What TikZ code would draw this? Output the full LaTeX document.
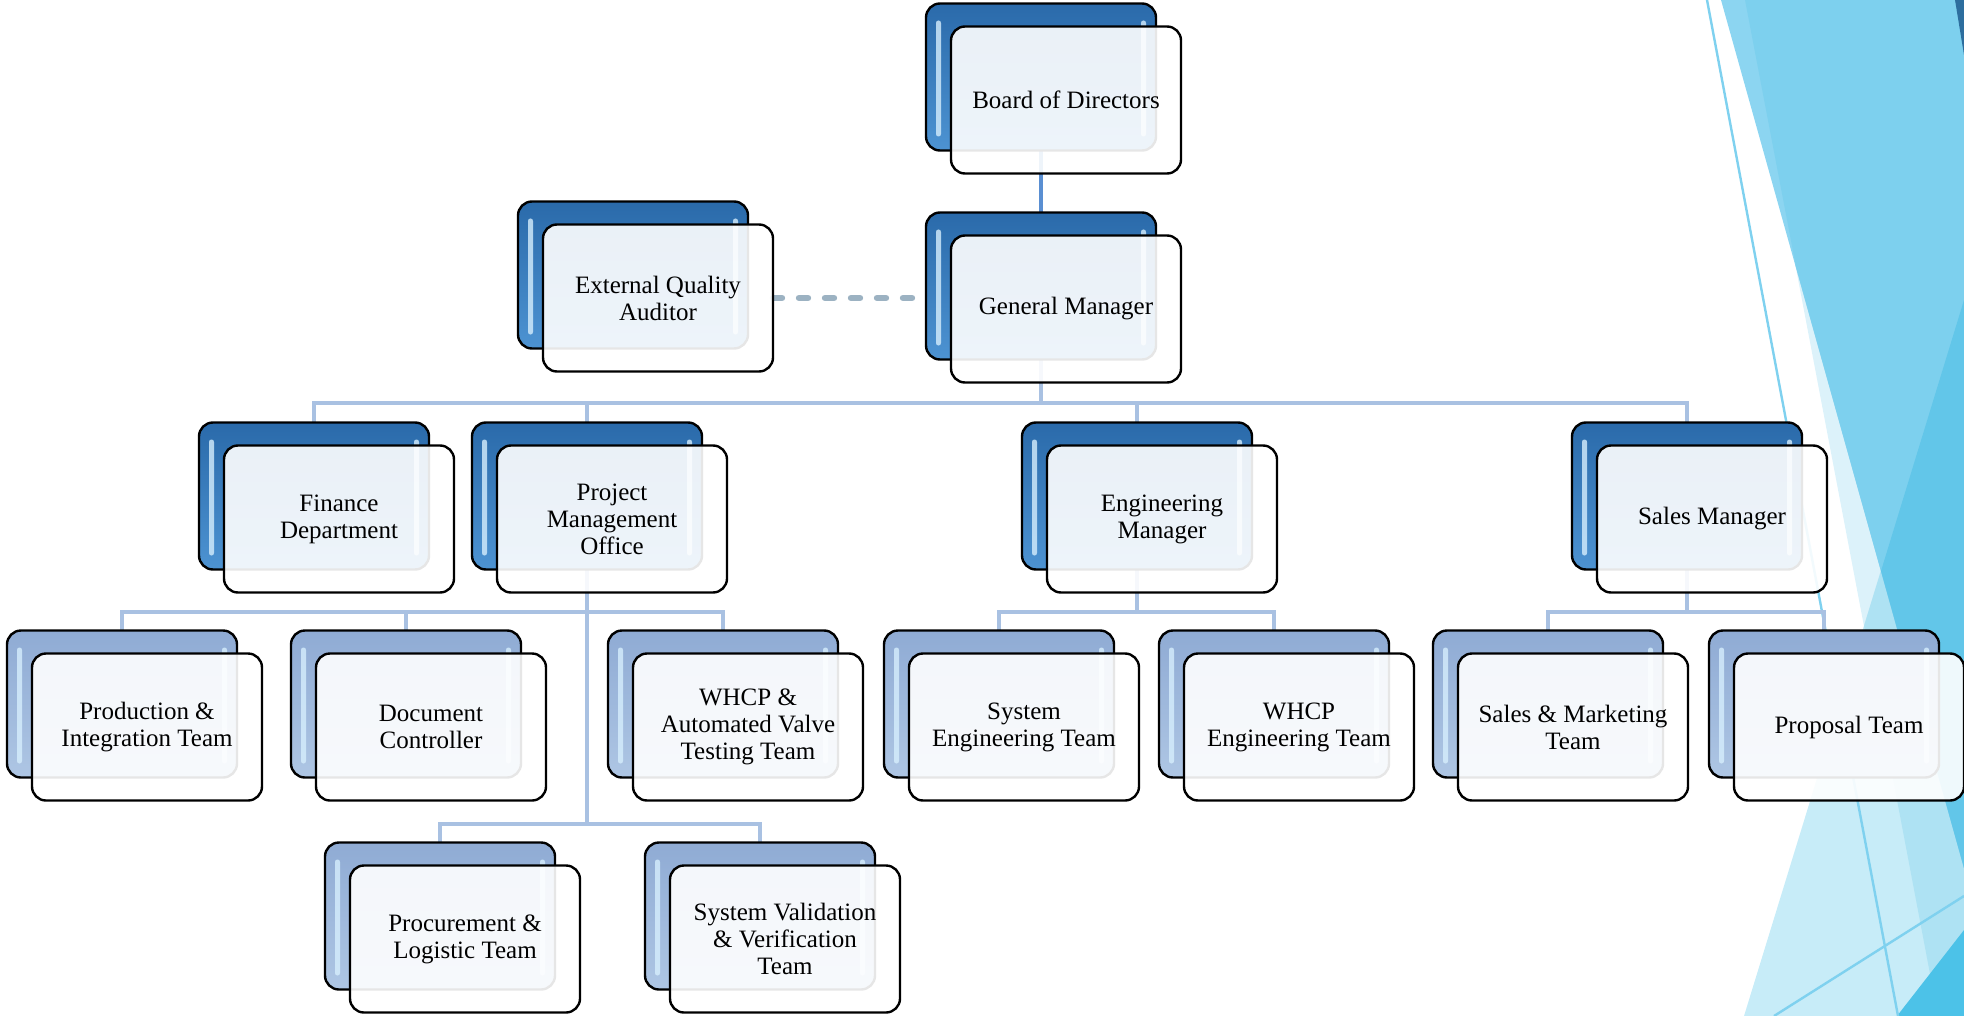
\documentclass[tikz,border=0pt]{standalone}
\usepackage{fontspec}
\setmainfont{Liberation Serif}
\usetikzlibrary{backgrounds}

\definecolor{linkblue}{HTML}{A9C1E2}
\definecolor{topline}{HTML}{5A8FD2}
\definecolor{dashgray}{HTML}{9CB2C2}
\definecolor{deeptop}{HTML}{2A6AAA}
\definecolor{deepbot}{HTML}{4D93D2}
\definecolor{paletop}{HTML}{8FABD4}
\definecolor{palebot}{HTML}{AEC6E4}
\definecolor{glint}{HTML}{D6EEFD}
\definecolor{decoX}{HTML}{8CD5F1}
\definecolor{decoY}{HTML}{DCF2FA}
\definecolor{decoZ}{HTML}{C7ECF8}
\definecolor{decoYZ}{HTML}{AEE2F3}
\definecolor{decoXY}{HTML}{7DD0EE}
\definecolor{decoXZ}{HTML}{62C6E9}
\definecolor{decoW}{HTML}{4CC2E8}
\definecolor{decoNavy}{HTML}{2D6E9E}
\definecolor{decoline}{HTML}{7FD1EF}

\begin{document}
\begin{tikzpicture}[x=0.5pt,y=-0.5pt,
  backbox/.style={draw=black, line width=1.2pt, rounded corners=7pt,
    minimum width=115pt, minimum height=73.5pt, inner sep=0pt, outer sep=0pt,
    path picture={
      \fill[glint, opacity=.8, rounded corners=1.2pt]
        ([xshift=5pt,yshift=-8.5pt]path picture bounding box.north west) rectangle
        ([xshift=7.5pt,yshift=7pt]path picture bounding box.south west);
      \fill[glint, opacity=.8, rounded corners=1.2pt]
        ([xshift=-5pt,yshift=-8.5pt]path picture bounding box.north east) rectangle
        ([xshift=-7.5pt,yshift=7pt]path picture bounding box.south east);
    }},
  deepbox/.style={backbox, top color=deeptop, bottom color=deepbot},
  palebox/.style={backbox, top color=paletop, bottom color=palebot},
  frontbox/.style={draw=black, line width=1.2pt, rounded corners=7pt,
    fill=white, fill opacity=.9, text opacity=1,
    minimum width=115pt, minimum height=73.5pt, inner sep=2pt, outer sep=0pt,
    align=center, font=\fontsize{12.5}{13.5}\selectfont},
  link/.style={draw=linkblue, line width=2pt}]
\useasboundingbox (0,0) rectangle (1964,1016);

\foreach \nm/\x/\y/\txt in {board/1041/77/{Board of Directors},
  gm/1041/286/{General Manager},
  eqa/633/275/{External Quality\\Auditor},
  fin/314/496/{Finance\\Department},
  pmo/587/496/{Project\\Management\\Office},
  eng/1137/496/{Engineering\\Manager},
  sales/1687/496/{Sales Manager}}
{
    \node[deepbox] (\nm) at (\x,\y) {};
    \node[frontbox] (\nm-f) at ([xshift=12.5pt,yshift=-11.5pt]\nm) {\txt};
}

\foreach \nm/\x/\y/\txt in {prod/122/704/{Production \&\\Integration Team},
  doc/406/704/{Document\\Controller},
  whcp/723/704/{WHCP \&\\Automated Valve\\Testing Team},
  syseng/999/704/{System\\Engineering Team},
  whcpeng/1274/704/{WHCP\\Engineering Team},
  salesmkt/1548/704/{Sales \& Marketing\\Team},
  proposal/1824/704/{Proposal Team},
  proc/440/916/{Procurement \&\\Logistic Team},
  sysval/760/916/{System Validation\\\& Verification\\Team}}
{
    \node[palebox] (\nm) at (\x,\y) {};
    \node[frontbox] (\nm-f) at ([xshift=12.5pt,yshift=-11.5pt]\nm) {\txt};
}

\begin{pgfonlayer}{background}
% facets on the right
\fill[decoY] (1745,0) -- (1964,0) -- (1964,1016) -- (1938,1016) -- cycle;
\fill[decoZ] (1744,1016) -- (1964,300) -- (1964,1016) -- cycle;
\fill[decoYZ] (1864,626) -- (1964,300) -- (1964,1016) -- (1938,1016) -- cycle;
\fill[decoX] (1721,0) -- (1964,0) -- (1964,868) -- cycle;
\fill[decoXY] (1745,0) -- (1964,0) -- (1964,868) -- (1796,267) -- cycle;
\fill[decoXZ] (1964,300) -- (1881,571) -- (1964,868) -- cycle;
\fill[decoW] (1897,1016) -- (1964,930) -- (1964,1016) -- cycle;
\fill[decoNavy] (1955,0) -- (1964,0) -- (1964,55) -- cycle;
\draw[decoline, line width=1.2pt] (1707,0) -- (1898,1016);
\draw[decoline, line width=1.2pt] (1774,1016) -- (1964,896);

% links
\draw[topline, line width=2pt] (board) -- (gm);
\coordinate (b2) at ([yshift=10pt]fin.north);
\draw[link] (gm.south) -- (gm.south |- b2);
\draw[link] (fin.north) |- (b2) -| (sales.north);
\foreach \n in {pmo,eng}
{
    \draw[link] (\n.north) -- (\n.north |- b2);
}
\coordinate (b3) at ([yshift=9.5pt]prod.north);
\coordinate (b4) at ([yshift=9.5pt]proc.north);
\draw[link] (prod.north) |- (b3) -| (whcp.north);
\draw[link] (doc.north) -- (doc.north |- b3);
\draw[link] (pmo.south) -- (pmo.south |- b4);
\draw[link] (proc.north) |- (b4) -| (sysval.north);
\foreach \p/\a/\b in {eng/syseng/whcpeng,sales/salesmkt/proposal}
{
    \draw[link] (\p.south) -- (\p.south |- b3);
    \draw[link] (\a.north) -- (\a.north |- b3) -| (\b.north);
}
\draw[dashgray, line width=3.2pt, line cap=round, dash pattern=on 4.5pt off 8.5pt]
  (eqa-f.east) -- (eqa-f.east -| gm.west);
\end{pgfonlayer}

\end{tikzpicture}
\end{document}
